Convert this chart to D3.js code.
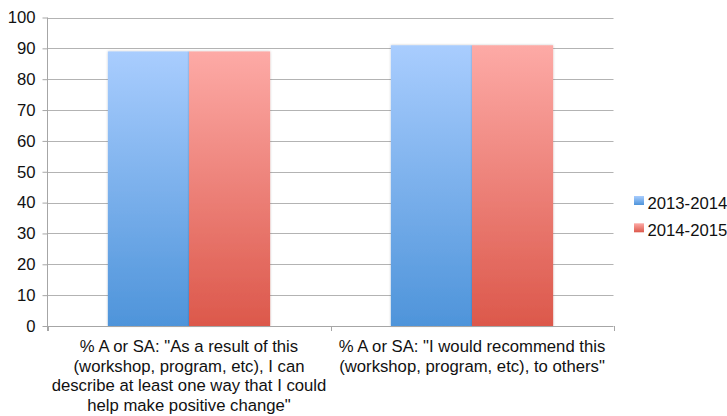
<!DOCTYPE html>
<meta charset="utf-8">
<style>
    body { margin: 0; background: #fff; }
    svg text { font-family: "Liberation Sans", Arial, Helvetica, sans-serif; font-size: 16.7px; fill: #111; }
    .grid line { stroke: #b3b3b3; stroke-width: 1px; }
    .axis path, .axis line { stroke: #a6a6a6; stroke-width: 1px; fill: none; }
</style>
<svg width="727" height="416"></svg>
<script src="https://cdn.jsdelivr.net/npm/d3@7"></script>
<script>

    var categories = [
        ['% A or SA: "As a result of this', '(workshop, program, etc), I can', 'describe at least one way that I could', 'help make positive change"'],
        ['% A or SA: "I would recommend this', '(workshop, program, etc), to others"']
    ];
    var seriesNames = ["2013-2014", "2014-2015"];
    var values2013 = [89, 91];
    var values2014 = [89, 91];
    var yTicks = [0, 10, 20, 30, 40, 50, 60, 70, 80, 90, 100];

    var svg = d3.select("svg"),
        plotLeft = 47.5, plotRight = 613.5, plotTop = 17.5, plotBottom = 326;

    var defs = svg.append("defs");
    function grad(id, c1, c2) {
        var g = defs.append("linearGradient").attr("id", id)
            .attr("x1", 0).attr("y1", 0).attr("x2", 0).attr("y2", 1);
        g.append("stop").attr("offset", "0%").attr("stop-color", c1);
        g.append("stop").attr("offset", "100%").attr("stop-color", c2);
    }
    grad("g0", "#a9cdfe", "#4e94da");
    grad("g1", "#fdaaa6", "#dc584b");
    var shadow = defs.append("filter").attr("id", "sh").attr("x", "-10%").attr("y", "-10%").attr("width", "120%").attr("height", "120%");
    shadow.append("feDropShadow").attr("dx", 0).attr("dy", 0).attr("stdDeviation", 1).attr("flood-color", "#000").attr("flood-opacity", 0.25);

    var idx = categories.map(function (d, i) { return i; });
    var x = d3.scaleBand().domain(idx).range([plotLeft, plotRight]);
    var x1 = d3.scaleBand().domain([0, 1]).range([0, x.bandwidth()]).paddingOuter(0.744);
    var y = d3.scaleLinear().domain([0, 100]).range([plotBottom, plotTop]);

    // gridlines
    svg.append("g").attr("class", "grid")
        .selectAll("line").data(yTicks.slice(1)).enter().append("line")
        .attr("x1", plotLeft).attr("x2", plotRight)
        .attr("y1", function (d) { return Math.round(y(d)) + 0.5; })
        .attr("y2", function (d) { return Math.round(y(d)) + 0.5; });

    // y axis
    var yAxis = svg.append("g").attr("class", "axis")
        .attr("transform", "translate(" + plotLeft + ",0)")
        .call(d3.axisLeft(y).tickValues(yTicks).tickSize(5).tickPadding(7).tickSizeOuter(0));
    yAxis.select(".domain").remove();
    yAxis.append("line").attr("x1", 0).attr("x2", 0).attr("y1", plotTop).attr("y2", plotBottom + 5);
    yAxis.selectAll("text").attr("font-family", null).attr("font-size", null).attr("fill", "#111");

    // bars
    var series = [values2013, values2014];
    var bars = svg.append("g");
    series.forEach(function (vals, s) {
        bars.selectAll(".b" + s).data(vals).enter().append("rect")
            .attr("class", "b" + s)
            .attr("x", function (d, i) { return x(i) + x1(s); })
            .attr("width", x1.bandwidth())
            .attr("y", function (d) { return y(d); })
            .attr("height", function (d) { return plotBottom - y(d); })
            .attr("fill", "url(#g" + s + ")")
            .attr("filter", "url(#sh)");
    });

    // x axis
    var xg = svg.append("g").attr("class", "axis");
    xg.append("line").attr("x1", plotLeft).attr("x2", plotRight).attr("y1", plotBottom + 0.5).attr("y2", plotBottom + 0.5);
    xg.selectAll(".tk").data(idx.concat([idx.length])).enter().append("line")
        .attr("x1", function (d) { return Math.round(d < idx.length ? x(d) : plotRight) + 0.5; })
        .attr("x2", function (d) { return Math.round(d < idx.length ? x(d) : plotRight) + 0.5; })
        .attr("y1", plotBottom).attr("y2", plotBottom + 5);

    var labels = svg.append("g").selectAll("text").data(categories).enter().append("text")
        .attr("text-anchor", "middle")
        .attr("transform", function (d, i) { return "translate(" + (x(i) + x.bandwidth() / 2) + "," + 352 + ")"; });
    labels.selectAll("tspan").data(function (d) { return d; }).enter().append("tspan")
        .attr("x", 0).attr("y", function (d, i) { return i * 19.7; })
        .text(function (d) { return d; });

    // legend
    var legend = svg.append("g").attr("transform", "translate(634,196)");
    var li = legend.selectAll("g").data(seriesNames).enter().append("g")
        .attr("transform", function (d, i) { return "translate(0," + i * 27.3 + ")"; });
    li.append("rect").attr("width", 10).attr("height", 9).attr("fill", function (d, i) { return "url(#g" + i + ")"; });
    li.append("text").attr("x", 13.5).attr("y", 13).text(function (d) { return d; });

</script>
